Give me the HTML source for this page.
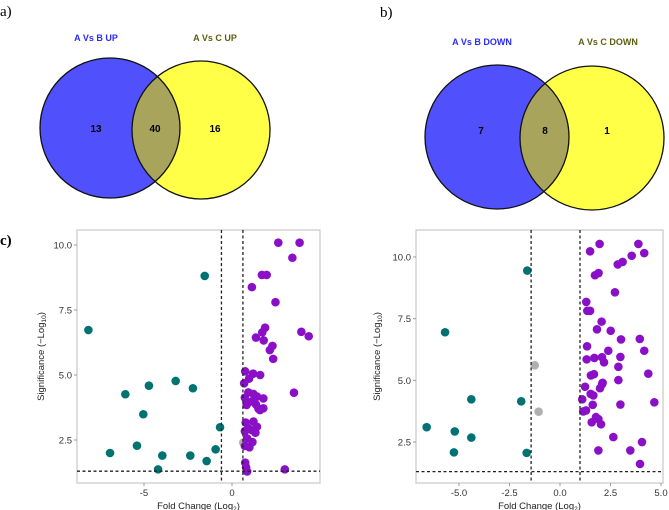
<!DOCTYPE html>
<html><head><meta charset="utf-8"><style>
body{margin:0;background:#fff;width:669px;height:510px;overflow:hidden;font-family:"Liberation Sans",sans-serif}
svg{display:block}
</style></head><body>
<svg id="fig" width="669" height="510">
<text x="0" y="16" font-family="Liberation Serif" font-size="15">a)</text>
<text x="380" y="17" font-family="Liberation Serif" font-size="15">b)</text>
<text x="0" y="245" font-family="Liberation Serif" font-size="15" font-weight="bold">c)</text>
<g>
<defs><clipPath id="cA"><circle cx="110" cy="128" r="70"/></clipPath><clipPath id="cB"><circle cx="497" cy="137" r="72"/></clipPath></defs>
<circle cx="110" cy="128" r="70" fill="#5050fc"/>
<circle cx="201" cy="130" r="69" fill="#ffff48"/>
<circle cx="201" cy="130" r="69" fill="#a8a45c" clip-path="url(#cA)"/>
<circle cx="110" cy="128" r="70" fill="none" stroke="#111" stroke-width="1.3"/>
<circle cx="201" cy="130" r="69" fill="none" stroke="#111" stroke-width="1.3"/>
<text x="96" y="41" text-anchor="middle" font-size="9" font-weight="bold" fill="#2b2bff">A Vs B UP</text>
<text x="215" y="41" text-anchor="middle" font-size="9" font-weight="bold" fill="#5e5e10">A Vs C UP</text>
<text x="96" y="132" text-anchor="middle" font-size="10" font-weight="bold">13</text>
<text x="155" y="132" text-anchor="middle" font-size="10" font-weight="bold">40</text>
<text x="215" y="132" text-anchor="middle" font-size="10" font-weight="bold">16</text>
</g>
<g>
<circle cx="497" cy="137" r="72" fill="#5050fc"/>
<circle cx="592" cy="138" r="72" fill="#ffff48"/>
<circle cx="592" cy="138" r="72" fill="#a8a45c" clip-path="url(#cB)"/>
<circle cx="497" cy="137" r="72" fill="none" stroke="#111" stroke-width="1.3"/>
<circle cx="592" cy="138" r="72" fill="none" stroke="#111" stroke-width="1.3"/>
<text x="482" y="45" text-anchor="middle" font-size="9" font-weight="bold" fill="#2b2bff">A Vs B DOWN</text>
<text x="608" y="45" text-anchor="middle" font-size="9" font-weight="bold" fill="#5e5e10">A Vs C DOWN</text>
<text x="481" y="134" text-anchor="middle" font-size="10" font-weight="bold">7</text>
<text x="545" y="134" text-anchor="middle" font-size="10" font-weight="bold">8</text>
<text x="607" y="134" text-anchor="middle" font-size="10" font-weight="bold">1</text>
</g>
</svg>
<script>
const L_teal_x=[-8.16,-1.55,-5.04,-6.06,-4.72,-3.2,-2.22,-0.68,-5.4,-6.93,-3.96,-2.37,-0.93,-1.44,-4.2];
const L_teal_y=[6.73,8.81,3.49,4.26,4.59,4.77,4.49,2.99,2.28,2.0,1.9,1.9,2.14,1.69,1.37];
const L_gray_x=[0.64];
const L_gray_y=[2.4];
const L_purp_x=[2.63,3.84,3.43,1.7,1.97,1.13,2.47,1.88,1.72,1.36,1.8,3.94,4.36,2.3,2.15,2.34,0.75,1.2,0.97,1.6,0.69,3.52,0.93,1.22,0.73,1.42,1.78,0.93,1.36,1.16,0.83,1.59,1.78,1.5,0.78,1.22,0.93,1.42,1.12,0.73,1.33,0.86,1.16,0.99,0.73,0.75,0.8,0.86,3.0];
const L_purp_y=[10.09,10.09,9.51,8.85,8.85,8.38,7.8,6.82,6.64,6.44,6.33,6.66,6.49,6.12,5.96,5.62,5.14,5.05,4.86,5.0,4.68,4.32,4.33,4.27,4.13,4.17,4.1,3.94,3.87,4.0,3.85,3.65,3.72,3.71,3.17,3.21,2.95,3.01,2.88,2.84,2.78,2.56,2.42,2.22,2.27,1.63,1.45,1.29,1.37];
const L_xticks=[-5,0];
const L_xlabels=["-5","0"];
const L_yticks=[2.5,5,7.5,10];
const L_ylabels=["2.5","5.0","7.5","10.0"];
const L_vlines=[-0.6,0.62];

const R_teal_x=[-1.62,-5.69,-4.39,-1.92,-6.6,-5.21,-4.39,-5.25,-1.65];
const R_teal_y=[9.45,6.95,4.23,4.15,3.1,2.93,2.68,2.08,2.06];
const R_gray_x=[-1.25,-1.06];
const R_gray_y=[5.61,3.73];
const R_purp_x=[1.96,3.88,1.49,4.17,3.55,2.86,3.1,1.73,1.91,2.72,1.3,1.35,1.49,2.06,1.83,2.51,3.95,3.02,1.34,2.39,4.17,1.32,1.7,2.08,2.99,2.18,2.89,1.53,1.68,4.37,2.11,2.08,2.89,1.98,1.24,1.52,1.65,1.1,4.67,1.62,2.99,1.15,1.29,1.57,1.78,1.9,2.03,2.64,4.06,1.9,3.48,3.96];
const R_purp_y=[10.53,10.53,10.23,10.16,10.05,9.7,9.8,9.26,9.35,8.57,8.18,7.82,7.82,7.38,7.07,7.01,6.68,6.66,6.38,6.2,6.2,5.85,5.91,5.94,5.95,5.73,5.55,5.2,5.25,5.27,4.9,4.84,5.01,4.68,4.74,4.45,4.39,4.23,4.11,4.01,4.02,3.74,3.78,3.3,3.51,3.43,3.22,2.7,2.5,2.16,2.16,1.61];
const R_xticks=[-5,-2.5,0,2.5,5];
const R_xlabels=["-5.0","-2.5","0.0","2.5","5.0"];
const R_yticks=[2.5,5,7.5,10];
const R_ylabels=["2.5","5.0","7.5","10.0"];
const R_vlines=[-1.43,0.99];
const hline=1.3;

const NS="http://www.w3.org/2000/svg";
const svg=document.getElementById('fig');
function mk(tag,attrs,parent){const e=document.createElementNS(NS,tag);for(const k in attrs)e.setAttribute(k,attrs[k]);(parent||svg).appendChild(e);return e;}

function plot(cfg){
  const g=mk('g',{});
  
  
  const sx=v=>cfg.x0+v*cfg.kx, sy=v=>cfg.y10-(v-10)*cfg.ky*-1*-1+0;
  const Y=v=>cfg.y10+(10-v)*cfg.ky;
  const fr=mk('rect',{x:cfg.left,y:cfg.top,width:cfg.right-cfg.left,height:cfg.bottom-cfg.top,fill:'#fff',stroke:'#c8c8c8','stroke-width':1.2},g);
  
  
  cfg.xt.forEach((v,i)=>{
    mk('line',{x1:sx(v),x2:sx(v),y1:cfg.bottom,y2:cfg.bottom+3,stroke:'#999'},g);
    const t=mk('text',{x:sx(v),y:cfg.bottom+13,'text-anchor':'middle','font-size':9.5,fill:'#333'},g);
    t.textContent=cfg.xl[i];
    
    
  });
  cfg.yt.forEach((v,i)=>{
    mk('line',{x1:cfg.left-3,x2:cfg.left,y1:Y(v),y2:Y(v),stroke:'#999'},g);
    const t=mk('text',{x:cfg.left-5,y:Y(v)+3.5,'text-anchor':'end','font-size':9.5,fill:'#333'},g);
    t.textContent=cfg.yl[i];
    
    
  });
  const xt=mk('text',{x:(cfg.left+cfg.right)/2,y:cfg.bottom+26,'text-anchor':'middle','font-size':9.5,fill:'#222'},g);
  xt.innerHTML='Fold Change (Log<tspan font-size="6.5" dy="2">2</tspan><tspan dy="-2">)</tspan>';
  
  
  const cy=(cfg.top+cfg.bottom)/2;
  const yt=mk('text',{x:cfg.ytx,y:cy,'text-anchor':'middle','font-size':9.5,fill:'#222',transform:`rotate(-90 ${cfg.ytx} ${cy})`},g);
  yt.innerHTML='Significance (\u2212Log<tspan font-size="6.5" dy="2">10</tspan><tspan dy="-2">)</tspan>';
  
  
  const pts=(xs,ys,col,nm)=>xs.forEach((v,i)=>{
    const c=mk('circle',{cx:sx(v),cy:Y(ys[i]),r:4.3,fill:col},g);
    
    
  });
  pts(cfg.tx,cfg.ty,'#007272','point-down');
  pts(cfg.gx,cfg.gy,'#b0b0b0','point-ns');
  pts(cfg.px,cfg.py,'#8a10c8','point-up');
  cfg.vl.forEach(v=>{
    const l=mk('line',{x1:sx(v),x2:sx(v),y1:cfg.top,y2:cfg.bottom,stroke:'#222','stroke-width':1.3,'stroke-dasharray':'3,2.5'},g);
    
    
  });
  const h=mk('line',{x1:cfg.left,x2:cfg.right,y1:Y(hline),y2:Y(hline),stroke:'#222','stroke-width':1.3,'stroke-dasharray':'3,2.5'},g);
  
  
}
plot({name:'volcano-left',left:77,right:320,top:230,bottom:483,x0:232,kx:17.6,y10:245,ky:26,ytx:44,
  xt:L_xticks,xl:L_xlabels,yt:L_yticks,yl:L_ylabels,tx:L_teal_x,ty:L_teal_y,gx:L_gray_x,gy:L_gray_y,px:L_purp_x,py:L_purp_y,vl:L_vlines});
plot({name:'volcano-right',left:416,right:663,top:230,bottom:483,x0:560,kx:20.2,y10:257,ky:24.67,ytx:380,
  xt:R_xticks,xl:R_xlabels,yt:R_yticks,yl:R_ylabels,tx:R_teal_x,ty:R_teal_y,gx:R_gray_x,gy:R_gray_y,px:R_purp_x,py:R_purp_y,vl:R_vlines});
</script>
</body></html>
